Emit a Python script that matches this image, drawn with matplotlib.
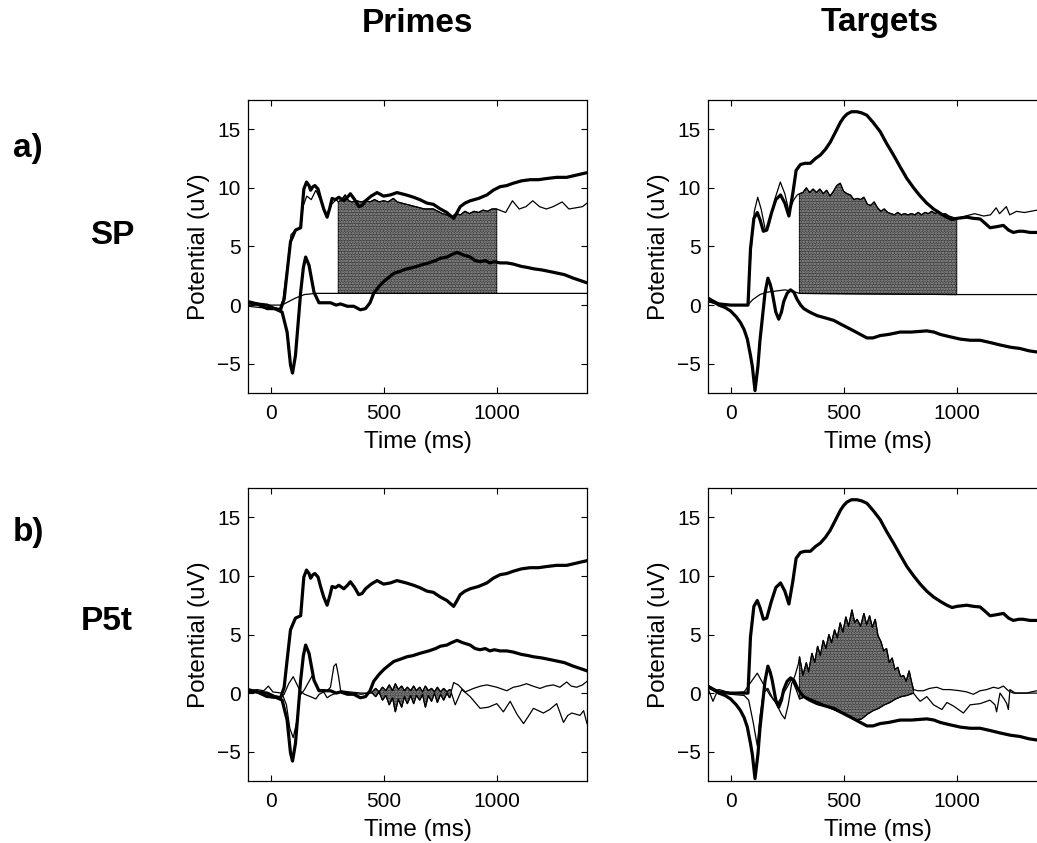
"""
Four ERP panels (primes / targets x SP / P5t) with shaded component windows.
Values read off the scanned figure by eye.
"""
import numpy as np
import matplotlib
matplotlib.use("Agg")
import matplotlib.pyplot as plt

plt.rcParams["font.family"] = ["Liberation Sans", "DejaVu Sans"]
plt.rcParams["hatch.linewidth"] = 1.2

# --- grand-average curves (thick), shared by both rows -----------------------
# (time ms, potential uV)
prime_hi = np.array([
    (-100, 0.3), (-60, 0.1), (-15, -0.3), (20, -0.3), (44, -0.4), (60, 0.5),
    (73, 2.8), (88, 5.4), (110, 6.4), (133, 6.6), (147, 9.9), (159, 10.5),
    (170, 10.2), (177, 9.8), (187, 10.1), (196, 10.2), (210, 9.9), (221, 9.1),
    (235, 8.2), (250, 7.5), (262, 8.3), (272, 9.1), (287, 9.0), (302, 9.2),
    (324, 8.9), (340, 9.2), (353, 9.5), (372, 9.0), (390, 8.4), (405, 8.5),
    (420, 8.9), (445, 9.3), (471, 9.6), (500, 9.3), (530, 9.4), (559, 9.6),
    (600, 9.4), (633, 9.2), (660, 9.0), (692, 8.7), (720, 8.6), (751, 8.2),
    (780, 7.9), (810, 7.4), (825, 7.9), (839, 8.4), (860, 8.7), (883, 8.9),
    (920, 9.1), (957, 9.4), (985, 9.8), (1015, 10.1), (1045, 10.2),
    (1074, 10.4), (1110, 10.6), (1148, 10.7), (1185, 10.7), (1222, 10.8),
    (1265, 10.9), (1310, 10.9), (1355, 11.1), (1400, 11.3),
])
prime_lo = np.array([
    (-100, 0.2), (-60, 0.1), (-15, 0.0), (29, -0.4), (51, -0.6), (73, -2.3),
    (88, -5.1), (97, -5.8), (110, -4.3), (122, -1.5), (133, 1.1), (145, 3.2),
    (155, 4.1), (170, 3.4), (192, 1.1), (214, 0.2), (240, 0.2), (265, 0.2),
    (290, 0.0), (309, 0.1), (340, -0.1), (368, -0.1), (397, -0.4), (420, -0.3),
    (440, 0.2), (456, 1.0), (480, 1.6), (500, 2.0), (525, 2.4), (545, 2.7),
    (575, 2.9), (603, 3.1), (630, 3.2), (662, 3.4), (700, 3.6), (730, 3.8),
    (751, 4.0), (780, 4.1), (800, 4.3), (825, 4.5), (850, 4.3), (883, 4.1),
    (905, 3.8), (927, 3.7), (950, 3.8), (970, 3.6), (990, 3.7), (1015, 3.6),
    (1045, 3.6), (1074, 3.5), (1110, 3.3), (1140, 3.2), (1163, 3.1),
    (1200, 3.0), (1251, 2.8), (1300, 2.6), (1339, 2.3), (1370, 2.1), (1400, 1.9),
])
target_hi = np.array([
    (-100, 0.5), (-75, 0.3), (-52, 0.1), (0, 0.0), (44, 0.0), (77, 0.0),
    (88, 4.8), (103, 7.4), (118, 7.9), (130, 7.3), (145, 6.3), (160, 6.4),
    (180, 7.8), (200, 9.0), (221, 9.4), (240, 8.7), (258, 7.6), (275, 9.5),
    (290, 11.5), (309, 12.0), (330, 12.1), (353, 12.1), (375, 12.5),
    (397, 12.8), (420, 13.3), (441, 13.9), (465, 14.8), (486, 15.6),
    (500, 16.0), (515, 16.3), (535, 16.5), (559, 16.5), (580, 16.4),
    (603, 16.2), (630, 15.6), (662, 14.8), (690, 13.8), (721, 12.8),
    (750, 11.8), (780, 10.8), (810, 10.0), (839, 9.3), (868, 8.7), (898, 8.2),
    (930, 7.8), (957, 7.5), (980, 7.3), (1001, 7.4), (1045, 7.5), (1075, 7.4),
    (1104, 7.35), (1125, 7.0), (1148, 6.6), (1180, 6.7), (1207, 6.8),
    (1230, 6.4), (1251, 6.2), (1275, 6.3), (1295, 6.3), (1325, 6.2),
    (1355, 6.2), (1400, 6.1),
])
target_lo = np.array([
    (-100, 0.6), (-75, 0.3), (-52, 0.0), (-25, -0.2), (0, -0.5), (25, -1.0),
    (44, -1.5), (60, -2.1), (74, -2.9), (88, -4.3), (96, -5.2), (108, -7.3),
    (121, -5.2), (130, -3.0), (140, -1.2), (152, 1.0), (165, 2.3), (175, 1.8),
    (184, 1.1), (200, -0.6), (213, -1.2), (225, -0.6), (235, 0.3), (250, 1.0),
    (265, 1.3), (280, 1.1), (294, 0.5), (310, 0.0), (324, -0.3), (350, -0.6),
    (383, -0.9), (420, -1.1), (456, -1.3), (485, -1.6), (515, -1.9),
    (545, -2.2), (574, -2.5), (603, -2.8), (630, -2.8), (662, -2.6),
    (700, -2.5), (750, -2.3), (800, -2.3), (868, -2.2), (900, -2.3),
    (927, -2.5), (970, -2.7), (1016, -2.9), (1060, -3.0), (1104, -3.0),
    (1150, -3.2), (1192, -3.4), (1240, -3.6), (1280, -3.7), (1320, -3.9),
    (1355, -4.0), (1400, -4.1),
])

# --- component curves (thin), row a) SP ---------------------------------------
sp_prime_top = np.array([
    (-100, -0.1), (-50, -0.2), (0, -0.3), (40, -0.3), (55, 0.5), (75, 3.5),
    (90, 6.0), (110, 6.4), (130, 6.6), (145, 8.5), (160, 9.3), (180, 9.0),
    (200, 9.8), (220, 9.0), (250, 7.6), (270, 8.6), (290, 9.0),
    (300, 8.8), (315, 9.0), (330, 9.4), (345, 8.9), (360, 8.8), (380, 8.9),
    (400, 8.8), (420, 8.9), (440, 8.8), (460, 9.0), (480, 8.8), (500, 8.9),
    (520, 8.8), (543, 9.1), (560, 8.8), (580, 8.7), (600, 8.6), (620, 8.5),
    (640, 8.4), (660, 8.3), (680, 8.2), (700, 8.2), (720, 8.2), (740, 8.0),
    (760, 7.8), (780, 7.7), (800, 7.5), (820, 7.8), (840, 7.7), (860, 8.0),
    (880, 7.8), (900, 8.0), (920, 7.9), (940, 8.1), (960, 8.0), (980, 8.2),
    (1000, 8.2), (1040, 7.9), (1070, 8.9), (1100, 8.2), (1130, 8.4),
    (1160, 8.9), (1190, 8.4), (1220, 8.2), (1250, 8.4), (1290, 8.8),
    (1320, 8.2), (1350, 8.3), (1380, 8.4), (1400, 8.7),
])
sp_prime_base = np.array([
    (-100, 0.0), (0, 0.0), (50, 0.0), (80, 0.3), (110, 0.6), (150, 0.9),
    (200, 1.0), (300, 1.0), (1000, 1.0), (1400, 1.0),
])
sp_target_top = np.array([
    (-100, 0.3), (-50, 0.0), (0, 0.0), (75, 0.0), (90, 4.5), (105, 8.0),
    (120, 9.2), (135, 8.2), (155, 6.3), (170, 6.8), (195, 9.0), (220, 10.5),
    (240, 9.5), (258, 8.0), (280, 9.0), (295, 9.4),
    (305, 9.5), (320, 9.6), (335, 10.0), (350, 9.6), (365, 9.9), (380, 9.6),
    (395, 9.9), (410, 9.5), (425, 9.8), (440, 9.3), (455, 9.7), (470, 10.2),
    (485, 10.4), (500, 9.7), (515, 9.5), (530, 9.4), (545, 9.0), (560, 9.1),
    (575, 9.0), (590, 9.2), (605, 8.6), (620, 8.5), (635, 8.8), (650, 8.3),
    (665, 8.0), (680, 8.2), (695, 7.9), (710, 7.8), (725, 7.7), (740, 7.9),
    (755, 7.7), (770, 7.8), (785, 7.7), (800, 7.8), (815, 7.7), (830, 7.9),
    (845, 7.7), (860, 7.9), (875, 7.8), (890, 8.0), (905, 7.8), (920, 8.0),
    (935, 7.7), (950, 7.8), (965, 7.6), (980, 7.5), (1000, 7.4),
    (1040, 7.6), (1080, 7.8), (1120, 7.6), (1150, 7.7), (1175, 8.3),
    (1190, 7.8), (1220, 8.4), (1235, 7.7), (1265, 8.0), (1300, 7.9),
    (1355, 8.1), (1400, 8.1),
])
sp_target_base = np.array([
    (-100, 0.3), (-50, 0.1), (0, 0.0), (75, 0.0), (100, 0.5), (130, 0.9),
    (160, 1.1), (200, 1.2), (240, 1.3), (270, 1.2), (305, 1.0), (1000, 0.9),
    (1400, 0.9),
])

# --- component curves (thin), row b) P5t --------------------------------------
p5t_prime_a = np.array([
    (-100, 0.2), (-60, 0.3), (-30, 0.2), (-10, 0.6), (10, 0.1), (50, 0.0),
    (70, -1.0), (85, -3.0), (100, -3.8), (115, -2.5), (130, -0.2), (150, 0.3),
    (170, 1.0), (185, 1.5), (200, 0.8), (213, 0.3), (230, 0.3), (250, 0.2),
    (265, 0.5), (280, 2.3), (290, 2.5), (300, 1.5), (310, 0.2), (350, 0.1),
    (400, 0.0), (430, 0.0),
    (450, 0.0), (465, -0.3), (480, 0.1), (495, -0.6), (510, -0.2),
    (525, -1.0), (540, -0.4), (552, -1.6), (565, -0.5), (580, -1.2),
    (592, -0.3), (605, -0.9), (620, -0.2), (633, -0.9), (645, -0.2),
    (660, -0.6), (672, -0.1), (685, -1.2), (698, -0.2), (712, -0.7),
    (725, 0.0), (738, -0.8), (752, -0.1), (766, -0.6), (780, 0.0),
    (792, -0.4), (800, 0.0),
    (817, -1.0), (846, 0.3), (883, -0.3), (927, -1.3), (964, -1.2),
    (1001, -0.9), (1030, -1.6), (1060, -0.7), (1090, -1.8), (1119, -2.6),
    (1140, -2.0), (1163, -1.3), (1185, -1.5), (1207, -1.7), (1235, -1.4),
    (1266, -0.9), (1296, -2.5), (1315, -1.9), (1333, -1.7), (1369, -1.9),
    (1385, -1.5), (1400, -2.6),
])
p5t_prime_b = np.array([
    (-100, 0.0), (-60, 0.2), (-30, -0.1), (0, -0.4), (40, -0.5), (60, -0.1),
    (80, 0.8), (100, 1.4), (115, 0.8), (130, 0.2), (150, -0.1), (176, -0.3),
    (200, -0.5), (215, -0.1), (235, 0.1), (250, -0.4), (265, -0.2),
    (290, 0.0), (320, 0.1), (360, 0.0), (400, -0.1), (430, 0.0),
    (450, 0.1), (465, 0.4), (480, 0.1), (495, 0.5), (510, 0.2), (525, 0.7),
    (540, 0.2), (552, 0.8), (565, 0.3), (580, 0.6), (592, 0.2), (605, 0.5),
    (620, 0.2), (633, 0.6), (645, 0.2), (660, 0.5), (672, 0.1), (685, 0.6),
    (698, 0.2), (712, 0.4), (725, 0.1), (738, 0.5), (752, 0.1), (766, 0.4),
    (780, 0.1), (792, 0.3), (800, 0.2),
    (810, 0.9), (830, 0.7), (861, 0.1), (898, 0.4), (930, 0.6), (957, 0.7),
    (1001, 0.5), (1045, 0.2), (1074, 0.5), (1100, 0.6), (1133, 0.8),
    (1160, 0.6), (1192, 0.4), (1220, 0.6), (1251, 0.7), (1280, 0.5),
    (1310, 0.95), (1330, 0.6), (1354, 0.5), (1380, 0.7), (1400, 1.0),
])
p5t_target_c = np.array([
    (-100, 0.6), (-75, 0.2), (-50, 0.3), (0, 0.0), (60, 0.1), (85, 0.8),
    (118, 1.7), (150, 0.6), (175, -0.2), (200, -0.8), (225, -1.8),
    (240, -2.2), (255, -1.0), (270, 0.8), (285, 1.5), (300, 2.5),
    (305, 3.1), (320, 1.5), (335, 2.6), (345, 1.8), (360, 3.4), (372, 2.6),
    (385, 4.0), (397, 3.2), (410, 4.5), (422, 3.8), (435, 5.0), (447, 4.3),
    (460, 5.4), (472, 4.7), (485, 6.0), (497, 5.2), (510, 6.5), (522, 5.7),
    (537, 7.1), (549, 6.0), (560, 6.3), (575, 5.7), (590, 6.8), (602, 5.8),
    (615, 6.6), (627, 5.6), (640, 6.3), (652, 4.9), (665, 4.4), (677, 3.6),
    (690, 3.8), (702, 2.6), (715, 3.0), (727, 2.0), (740, 2.2), (752, 1.4),
    (765, 1.5), (777, 1.0), (790, 1.9), (800, 1.0), (809, 0.3),
    (830, 0.2), (853, 0.2), (880, 0.4), (912, 0.5), (940, 0.3), (971, 0.3),
    (1015, 0.2), (1045, 0.1), (1074, -0.1), (1104, 0.2), (1133, 0.3),
    (1163, 0.5), (1185, 0.4), (1207, 0.6), (1229, 0.2), (1251, 0.0),
    (1280, 0.0), (1310, 0.0), (1330, 0.1), (1355, 0.2), (1400, 0.2),
])
p5t_target_d = np.array([
    (-100, 0.4), (-78, -0.7), (-60, 0.1), (0, -0.1), (60, -0.2), (80, -0.6),
    (100, -2.5), (118, -4.5), (130, -2.0), (145, 0.0), (165, 0.4),
    (185, -0.4), (205, -1.0), (220, -0.5), (250, 0.5), (270, 1.2),
    (290, 0.3),
    (305, -0.5), (330, -0.3), (355, -0.5), (380, -0.7), (405, -0.9),
    (430, -1.2), (455, -1.4), (480, -1.6), (505, -1.8), (530, -2.0),
    (555, -2.3), (580, -2.2), (605, -1.8), (630, -1.5), (655, -1.3),
    (680, -1.0), (705, -0.8), (730, -0.5), (755, -0.3), (780, -0.2),
    (809, 0.0),
    (825, -0.4), (839, -0.7), (868, -0.3), (898, -1.0), (935, -1.4),
    (957, -0.8), (986, -1.1), (1030, -1.7), (1060, -1.0), (1104, -0.9),
    (1148, -0.6), (1170, -1.0), (1177, -1.6), (1192, 0.0), (1210, -0.5),
    (1222, -0.9), (1229, -1.4), (1236, 0.3), (1260, 0.0), (1280, 0.0),
    (1355, 0.0), (1400, 0.0),
])

# shaded windows (ms)
sp_prime_window = (300, 1000)
sp_target_window = (305, 1000)
p5t_prime_window = (450, 800)
p5t_target_window = (305, 809)

col_titles = ["Primes", "Targets"]
row_letters = ["a)", "b)"]
row_names = ["SP", "P5t"]
x_ticks = [0, 500, 1000]
y_ticks = [-5, 0, 5, 10, 15]

THICK = 2.3
THIN = 0.9
FILL_COLOR = "#3d3d3d"


def shade(ax, top, bottom, window):
    """Fill the component window between two thin curves."""
    t0, t1 = window
    up = top[(top[:, 0] >= t0) & (top[:, 0] <= t1)]
    dn = bottom[(bottom[:, 0] >= t0) & (bottom[:, 0] <= t1)][::-1]
    poly = np.vstack([up, dn])
    ax.fill(poly[:, 0], poly[:, 1], facecolor=FILL_COLOR,
            edgecolor="black", linewidth=0.9, zorder=1)
    ax.fill(poly[:, 0], poly[:, 1], facecolor="none", hatch="......",
            edgecolor="#9a9a9a", linewidth=0, zorder=1.1)


def style(ax):
    ax.set_xlim(-100, 1400)
    ax.set_ylim(-7.5, 17.5)
    ax.set_xticks(x_ticks)
    ax.set_yticks(y_ticks)
    ax.tick_params(direction="in", top=True, right=True, length=4,
                   width=0.8, labelsize=15)
    ax.tick_params(axis="x", pad=8)
    ax.tick_params(axis="y", pad=5)
    for s in ax.spines.values():
        s.set_linewidth(0.9)
    ax.set_xlabel("Time (ms)", fontsize=17.5, labelpad=6)
    ax.set_ylabel("Potential (uV)", fontsize=17.5, labelpad=5)


W, H = 1037, 843
fig = plt.figure(figsize=(W / 100, H / 100), dpi=100)

col_left = [248, 708]
row_top = [100, 488]
ax_w, ax_h = 339, 293

panels = {
    (0, 0): (prime_hi, prime_lo, sp_prime_top, sp_prime_base, sp_prime_window),
    (0, 1): (target_hi, target_lo, sp_target_top, sp_target_base, sp_target_window),
    (1, 0): (prime_hi, prime_lo, p5t_prime_b, p5t_prime_a, p5t_prime_window),
    (1, 1): (target_hi, target_lo, p5t_target_c, p5t_target_d, p5t_target_window),
}

for (r, c), (hi, lo, top, bot, win) in panels.items():
    ax = fig.add_axes([col_left[c] / W, 1 - (row_top[r] + ax_h) / H,
                       ax_w / W, ax_h / H])
    shade(ax, top, bot, win)
    for comp in (top, bot):
        ax.plot(comp[:, 0], comp[:, 1], color="black", lw=THIN, zorder=2)
    for erp in (hi, lo):
        ax.plot(erp[:, 0], erp[:, 1], color="black", lw=THICK, zorder=3,
                solid_joinstyle="round")
    style(ax)

# column titles and row labels
for x, title in zip([417, 880], col_titles):
    fig.text(x / W, 1 - 23 / H, title, ha="center", va="center",
             fontsize=24, fontweight="bold")
for y, letter in zip([148, 533], row_letters):
    fig.text(28 / W, 1 - y / H, letter, ha="center", va="center",
             fontsize=24, fontweight="bold")
for (x, y), name in zip([(112, 235), (107, 622)], row_names):
    fig.text(x / W, 1 - y / H, name, ha="center", va="center",
             fontsize=24, fontweight="bold")

fig.savefig("out.png", dpi=100)
